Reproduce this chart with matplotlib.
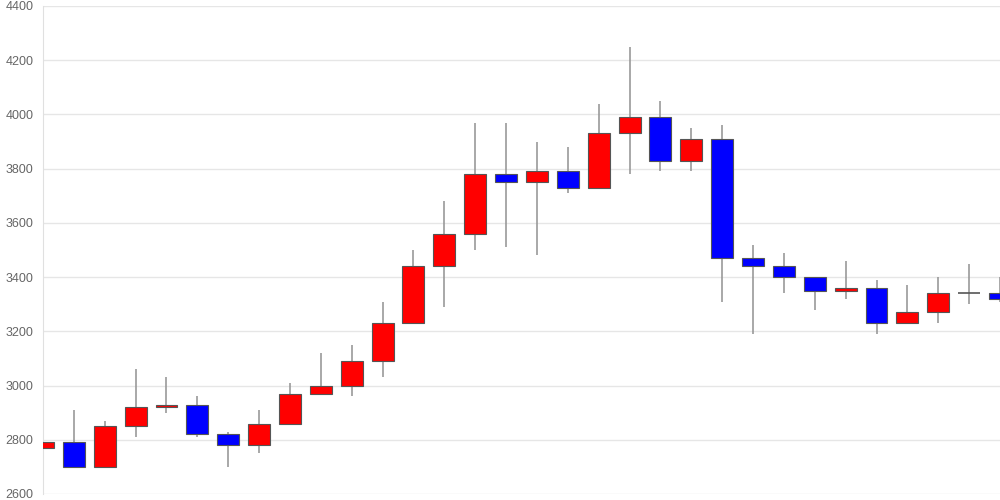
import numpy as np
import matplotlib
matplotlib.use("Agg")
from matplotlib import pyplot as plt

# daily OHLC
opens = [2770, 2790, 2700, 2850, 2920, 2930, 2820, 2780, 2860, 2970, 3000, 3090,
         3230, 3440, 3560, 3780, 3750, 3790, 3730, 3930, 3990, 3830, 3910, 3470,
         3440, 3400, 3350, 3360, 3230, 3270, 3340, 3340]
highs = [2800, 2910, 2870, 3060, 3030, 2960, 2830, 2910, 3010, 3120, 3150, 3310,
         3500, 3680, 3970, 3970, 3900, 3880, 4040, 4250, 4050, 3950, 3960, 3520,
         3490, 3400, 3460, 3390, 3370, 3400, 3450, 3400]
lows = [2720, 2700, 2700, 2810, 2900, 2810, 2700, 2750, 2860, 2970, 2960, 3030,
        3230, 3290, 3500, 3510, 3480, 3710, 3730, 3780, 3790, 3790, 3310, 3190,
        3340, 3280, 3320, 3190, 3230, 3230, 3300, 3310]
closes = [2790, 2700, 2850, 2920, 2930, 2820, 2780, 2860, 2970, 3000, 3090, 3230,
          3440, 3560, 3780, 3750, 3790, 3730, 3930, 3990, 3830, 3910, 3470, 3440,
          3400, 3350, 3360, 3230, 3270, 3340, 3340, 3320]
y_ticks = [2600, 2800, 3000, 3200, 3400, 3600, 3800, 4000, 4200, 4400]

plt.rcParams['font.family'] = ['Liberation Sans', 'DejaVu Sans']

o = np.array(opens)
h = np.array(highs)
l = np.array(lows)
c = np.array(closes)
x = np.arange(len(o))

fig = plt.figure(figsize=(10, 5), dpi=100)
ax = fig.add_axes([0.043, 0.012, 0.957, 0.976])

# wicks
ax.vlines(x, l, h, color="#999999", lw=1.2, zorder=2)

up = c > o
down = c < o
flat = c == o
bottom = np.minimum(o, c)
height = np.abs(c - o)

ax.bar(x[up], height[up], bottom=bottom[up], width=0.71, color="#ff0000",
       edgecolor="#555555", linewidth=0.8, zorder=3)
ax.bar(x[down], height[down], bottom=bottom[down], width=0.71, color="#0000ff",
       edgecolor="#555555", linewidth=0.8, zorder=3)
ax.hlines(o[flat], x[flat] - 0.355, x[flat] + 0.355, color="#555555", lw=1.2, zorder=3)

ax.set_xlim(0, len(o) - 1)
ax.set_ylim(2600, 4400)
ax.set_yticks(y_ticks)
ax.set_xticks([])
ax.grid(axis="y", color="#e6e6e6", lw=1)
ax.set_axisbelow(True)
ax.tick_params(axis="y", length=0, pad=7, labelsize=9, labelcolor="#666666")
for s in ["top", "right", "bottom"]:
    ax.spines[s].set_visible(False)
ax.spines["left"].set_color("#e0e0e0")

fig.savefig("out.png", dpi=100)
